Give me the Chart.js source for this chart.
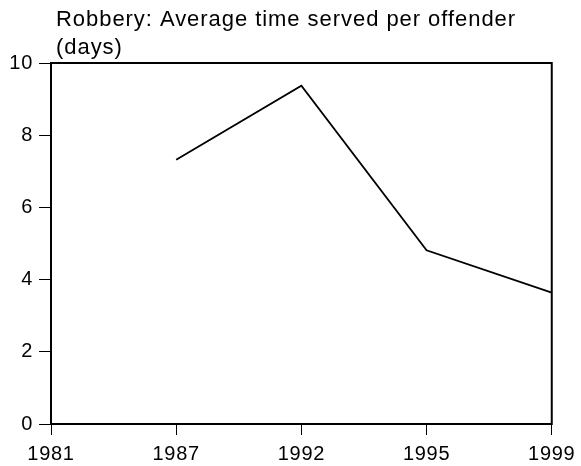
<!DOCTYPE html>
<html><head><meta charset="utf-8">
<script src="https://cdn.jsdelivr.net/npm/chart.js@4/dist/chart.umd.min.js"></script>
<style>html,body{margin:0;padding:0;background:#fff}#wrap{width:581px;height:466px;position:relative}</style>
</head><body><div id="wrap"><canvas id="c" width="581" height="466"></canvas></div>
<script>
const categories = ['1981', '1987', '1992', '1995', '1999'];
const timeServed = [null, 7.32, 9.37, 4.81, 3.64];
const titleLines = ['Robbery: Average time served per offender', '(days)'];
const yTicks = [0, 2, 4, 6, 8, 10];

const FONT = '"Liberation Sans", Arial, Helvetica, sans-serif';

const frame = {
  id: 'frame',
  beforeDraw(chart) { chart.ctx.letterSpacing = '0.7px'; },
  afterDatasetsDraw(chart) {
    const {ctx, chartArea: a} = chart;
    ctx.save();
    ctx.strokeStyle = '#000';
    ctx.lineWidth = 2;
    ctx.strokeRect(a.left, a.top, a.right - a.left, a.bottom - a.top);
    ctx.restore();
  },
  afterDraw(chart) {
    const {ctx} = chart;
    ctx.save();
    ctx.letterSpacing = '0.95px';
    ctx.fillStyle = '#000';
    ctx.font = '22px ' + FONT;
    ctx.textBaseline = 'alphabetic';
    ctx.textAlign = 'left';
    titleLines.forEach((t, i) => ctx.fillText(t, 56, 26 + i * 28));
    ctx.restore();
  }
};

new Chart(document.getElementById('c'), {
  type: 'line',
  data: { labels: categories, datasets: [{ data: timeServed, borderColor: '#000', borderWidth: 1.8, pointRadius: 0, tension: 0, fill: false, spanGaps: false }] },
  options: {
    responsive: false, animation: false,
    layout: { padding: { top: 63, right: 27, left: 0, bottom: 0 } },
    plugins: { legend: { display: false }, tooltip: { enabled: false } },
    scales: {
      x: {
        type: 'category', offset: false,
        afterFit(s) { s.height = 42; },
        grid: { drawOnChartArea: false, drawTicks: true, tickLength: 11, color: '#000', lineWidth: 1 },
        border: { display: true, color: '#000', width: 2 },
        ticks: { color: '#000', font: { family: FONT, size: 20 }, padding: 7, maxRotation: 0, autoSkip: false }
      },
      y: {
        min: 0, max: 10,
        afterFit(s) { s.width = 51; },
        afterBuildTicks(s) { s.ticks = yTicks.map(v => ({ value: v })); },
        grid: { drawOnChartArea: false, drawTicks: true, tickLength: 12, color: '#000', lineWidth: 1 },
        border: { display: true, color: '#000', width: 2 },
        ticks: { color: '#000', font: { family: FONT, size: 20 }, padding: 6 }
      }
    }
  },
  plugins: [frame]
});
</script></body></html>
